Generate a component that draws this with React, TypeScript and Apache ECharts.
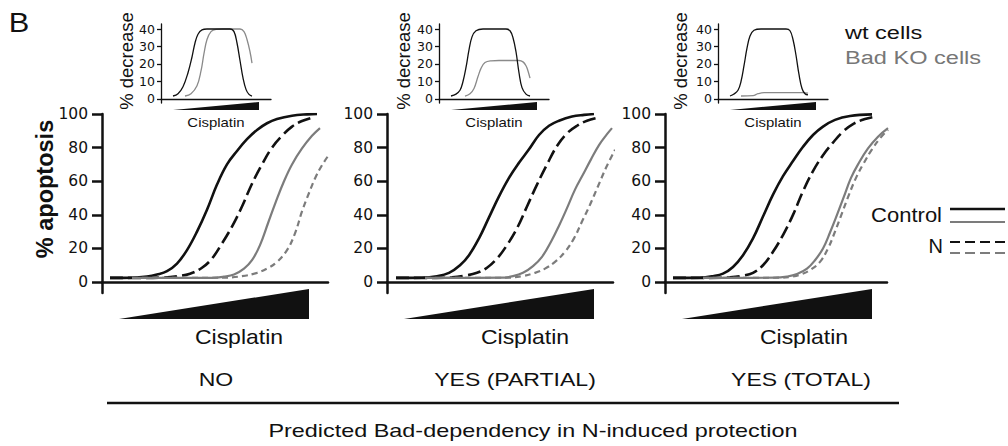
import React, { useEffect, useRef } from "react";
import * as echarts from "echarts";

// ---------- data (x = relative cisplatin dose units, y = %) ----------
const panelTitles = ["NO", "YES (PARTIAL)", "YES (TOTAL)"];
const mainYTicks = [0, 20, 40, 60, 80, 100];
const insetYTicks = [0, 10, 20, 30, 40];

// Panel 1 (NO)
const p1ControlWt = [[8, 2.5], [30, 2.6], [45, 3.3], [55, 4.5], [65, 6.5], [75, 11], [85, 19], [95, 30], [105, 43], [115, 58], [125, 70], [135, 78], [145, 85], [155, 90.5], [165, 94.5], [175, 97], [190, 99], [205, 99.8], [215, 100]];
const p1NWt = [[8, 2.5], [40, 2.5], [60, 2.7], [75, 3.5], [88, 5], [100, 8.5], [110, 14], [120, 23], [130, 33], [140, 45], [150, 58.5], [160, 70], [170, 80], [180, 87], [190, 92.5], [200, 95.8], [211, 98]];
const p1ControlKO = [[30, 2.5], [110, 2.5], [122, 3.2], [132, 4.5], [142, 8], [150, 13], [158, 22], [166, 35], [174, 48], [182, 60], [190, 70], [200, 79.5], [210, 87], [218, 91.6]];
const p1NKO = [[30, 2.5], [120, 2.6], [140, 3.5], [155, 5.5], [165, 8], [175, 12], [185, 19], [193, 29], [200, 42], [207, 53], [214, 63], [220, 69.5], [226, 75]];
// Panel 2 (YES PARTIAL)
const p2ControlWt = [[9, 2.5], [35, 2.6], [50, 3.5], [62, 5.5], [73, 10], [82, 16], [92, 26], [102, 38.5], [112, 51], [122, 62], [132, 71], [142, 79], [152, 87.5], [162, 93], [172, 96], [185, 98.5], [197, 99.5], [207, 100]];
const p2NWt = [[9, 2.5], [45, 2.5], [65, 2.8], [78, 3.8], [90, 5.5], [100, 8.5], [110, 14], [120, 22], [130, 32], [140, 45], [150, 58], [160, 70], [170, 81], [180, 88.5], [190, 93], [200, 96], [212, 98]];
const p2ControlKO = [[38, 2.5], [115, 2.6], [126, 3.5], [136, 5.5], [146, 9.5], [155, 15], [164, 24], [172, 33.5], [180, 44], [188, 55], [196, 64], [204, 73], [212, 81.5], [220, 88], [225, 91.6]];
const p2NKO = [[38, 2.5], [120, 2.6], [135, 3.5], [148, 5.5], [158, 8], [168, 12], [178, 18], [187, 26], [195, 36], [203, 46], [211, 57], [219, 68], [228, 78.7]];
// Panel 3 (YES TOTAL)
const p3ControlWt = [[8, 2.5], [35, 2.6], [48, 3.5], [58, 5], [68, 9], [78, 16], [88, 26], [98, 39], [108, 52], [118, 63], [128, 72], [138, 80.5], [148, 87.5], [158, 92.5], [170, 96.5], [185, 98.8], [207, 99.8]];
const p3NWt = [[8, 2.5], [45, 2.5], [65, 2.8], [78, 3.8], [88, 5.5], [98, 10], [108, 18], [118, 28], [128, 40], [138, 54], [148, 66], [158, 75.5], [168, 83], [178, 89.5], [188, 94], [200, 97], [212, 98.6]];
const p3ControlKO = [[38, 2.5], [110, 2.6], [122, 3.3], [132, 4.8], [142, 8], [150, 13], [158, 20], [165, 29.5], [172, 40], [179, 51], [186, 62], [194, 71], [203, 79.5], [213, 86.5], [223, 91.6]];
const p3NKO = [[38, 2.5], [115, 2.6], [127, 3.3], [137, 4.8], [146, 7.5], [155, 12], [163, 20], [170, 30], [177, 41], [184, 52], [191, 62], [199, 71], [207, 79], [215, 85.5], [223, 90.6]];

// Insets (% decrease)
const i1Wt = [[12, 1.7], [17, 3], [22, 7], [27, 15], [31, 24], [34, 32], [37, 37], [41, 39.5], [46, 40], [69, 40], [73, 38.5], [76, 32], [79, 22], [82, 12], [85, 5.5], [88, 2.6], [91, 1.7]];
const i1KO = [[24, 1.7], [30, 3], [36, 7.5], [40, 16], [43, 26], [46, 34], [50, 38.5], [55, 39.8], [62, 40], [79, 40], [83, 38.5], [86, 34], [89, 27], [91, 20.5]];
const i2Wt = [[12, 1.7], [17, 2.8], [21, 5], [24, 10], [27, 18], [30, 28], [33, 35.5], [37, 39], [44, 40], [67, 40], [71, 39], [74, 35], [77, 27], [80, 15], [83, 6.5], [87, 2.8], [91, 1.7]];
const i2KO = [[26, 1.7], [31, 3], [35, 6], [39, 12.8], [42, 17.5], [46, 20.8], [52, 21.8], [60, 22], [80, 22], [84, 21.2], [87, 19], [89, 16], [91, 11.9]];
const i3Wt = [[12, 1.7], [16, 2.8], [20, 5], [23, 10], [26, 19], [29, 29], [32, 36], [36, 39.3], [43, 40], [68, 40], [72, 39], [75, 34], [78, 25], [81, 14], [84, 6], [87, 3], [90, 2.3]];
const i3KO = [[23, 1.7], [35, 1.9], [40, 3.0], [46, 3.6], [85, 3.6], [90, 3.3]];

const mainCurves = [
  [p1ControlWt, p1NWt, p1ControlKO, p1NKO],
  [p2ControlWt, p2NWt, p2ControlKO, p2NKO],
  [p3ControlWt, p3NWt, p3ControlKO, p3NKO],
];
const insetCurves = [
  [i1Wt, i1KO],
  [i2Wt, i2KO],
  [i3Wt, i3KO],
];

// ---------- layout ----------
const FONT = "'Liberation Sans', Arial, Helvetica, sans-serif";
const NUMFONT = "'DejaVu Sans', 'Liberation Sans', sans-serif";
const BLACK = "#111";
const GRAY = "#7c7c7c";
const mainLeft = [102, 387, 665];
const mainWidth = [226, 226, 222];
const insetLeft = [161, 439, 718];
const INSET_W = 110;

function txt(text: string, x: number, y: number, size: number, o: any = {}) {
  return {
    type: "text",
    x,
    y,
    rotation: o.rotation || 0,
    scaleX: o.scaleX || 1,
    silent: true,
    style: {
      text,
      x: 0,
      y: 0,
      fontSize: size,
      fontFamily: FONT,
      fontWeight: o.weight || "normal",
      fill: o.fill || BLACK,
      textAlign: o.align || "center",
      textVerticalAlign: "middle",
    },
  };
}

export default function App() {
  const ref = useRef<HTMLDivElement>(null);

  useEffect(() => {
    if (!ref.current) return;
    const chart = echarts.init(ref.current, null, { renderer: "svg" });

    const grids: any[] = [];
    const xAxes: any[] = [];
    const yAxes: any[] = [];
    const series: any[] = [];

    // main grids 0..2
    for (let p = 0; p < 3; p++) {
      grids.push({ left: mainLeft[p], top: 114, width: mainWidth[p], height: 179, outerBoundsMode: "none", containLabel: false });
      xAxes.push({
        type: "value", gridIndex: p, min: 0, max: mainWidth[p],
        axisLine: { show: true, onZero: true, lineStyle: { color: BLACK, width: 2.5 } },
        axisTick: { show: false }, axisLabel: { show: false }, splitLine: { show: false },
      });
      yAxes.push({
        type: "value", gridIndex: p, min: -6.5, max: 100,
        axisLine: { show: true, onZero: false, lineStyle: { color: BLACK, width: 2.5 } },
        axisTick: { show: true, length: 10, customValues: mainYTicks, lineStyle: { color: BLACK, width: 2.5 } },
        axisLabel: { show: true, customValues: mainYTicks, margin: 14, fontSize: 15.5, fontFamily: NUMFONT, color: BLACK },
        splitLine: { show: false },
      });
    }
    // inset grids 3..5
    for (let p = 0; p < 3; p++) {
      grids.push({ left: insetLeft[p], top: 24, width: INSET_W, height: 79, outerBoundsMode: "none", containLabel: false });
      xAxes.push({
        type: "value", gridIndex: 3 + p, min: 0, max: INSET_W,
        axisLine: { show: true, onZero: true, lineStyle: { color: BLACK, width: 1.3 } },
        axisTick: { show: false }, axisLabel: { show: false }, splitLine: { show: false },
      });
      yAxes.push({
        type: "value", gridIndex: 3 + p, min: -2.3, max: 42.86,
        axisLine: { show: true, onZero: false, lineStyle: { color: BLACK, width: 1.3 } },
        axisTick: { show: true, length: 4, customValues: insetYTicks, lineStyle: { color: BLACK, width: 1.3 } },
        axisLabel: { show: true, customValues: insetYTicks, margin: 6, fontSize: 12.5, fontFamily: NUMFONT, color: BLACK },
        splitLine: { show: false },
      });
    }

    const styles = [
      { color: BLACK, width: 2.6, type: "solid" },
      { color: BLACK, width: 2.6, type: [13, 5] },
      { color: GRAY, width: 2.2, type: "solid" },
      { color: GRAY, width: 2.2, type: [6, 4] },
    ];
    for (let p = 0; p < 3; p++) {
      mainCurves[p].forEach((d, k) => {
        series.push({
          type: "line", data: d, xAxisIndex: p, yAxisIndex: p,
          smooth: 0.4, showSymbol: false, symbol: "none", silent: true,
          lineStyle: { ...styles[k], cap: "butt" }, z: 2 + k,
        });
      });
      insetCurves[p].forEach((d, k) => {
        series.push({
          type: "line", data: d, xAxisIndex: 3 + p, yAxisIndex: 3 + p,
          smooth: 0.4, showSymbol: false, symbol: "none", silent: true,
          lineStyle: { color: k === 0 ? BLACK : "#8a8a8a", width: 1.3 }, z: 3 - k,
        });
      });
    }

    const graphic: any[] = [];
    graphic.push(txt("B", 19, 22, 28, { scaleX: 1.1 }));
    graphic.push(txt("% apoptosis", 45, 189, 23.5, { rotation: Math.PI / 2, weight: "bold" }));
    const decX = [126, 403, 680];
    const cisMainX = [239, 525, 804];
    const titleX = [216, 515, 801];
    for (let p = 0; p < 3; p++) {
      graphic.push(txt("% decrease", decX[p], 61, 18.5, { rotation: Math.PI / 2 }));
      const il = insetLeft[p] + 12;
      graphic.push({ type: "polygon", silent: true, shape: { points: [[il, 110], [il + 86, 102], [il + 86, 110]] }, style: { fill: BLACK } });
      graphic.push(txt("Cisplatin", il + 43, 122, 13, { scaleX: 1.15 }));
      const ml = mainLeft[p] + 17;
      graphic.push({ type: "polygon", silent: true, shape: { points: [[ml, 319], [ml + 190, 289], [ml + 190, 319]] }, style: { fill: BLACK } });
      graphic.push(txt("Cisplatin", cisMainX[p], 337, 20, { scaleX: 1.15 }));
      graphic.push(txt(panelTitles[p], titleX[p], 379, 18, { scaleX: 1.28 }));
    }
    graphic.push({ type: "line", silent: true, shape: { x1: 107, y1: 403, x2: 899, y2: 403 }, style: { stroke: BLACK, lineWidth: 2.5 } });
    graphic.push(txt("Predicted Bad-dependency in N-induced protection", 533, 431, 18, { scaleX: 1.3 }));

    // legends
    graphic.push(txt("wt cells", 845, 33, 19, { align: "left", scaleX: 1.24 }));
    graphic.push(txt("Bad KO cells", 845, 58, 19, { align: "left", scaleX: 1.24, fill: "#777" }));
    graphic.push(txt("Control", 942, 215, 20, { align: "right", scaleX: 1.1 }));
    graphic.push(txt("N", 943, 246, 20, { align: "right" }));
    graphic.push({ type: "line", silent: true, shape: { x1: 950, y1: 209, x2: 1005, y2: 209 }, style: { stroke: BLACK, lineWidth: 2.5 } });
    graphic.push({ type: "line", silent: true, shape: { x1: 950, y1: 222, x2: 1005, y2: 222 }, style: { stroke: GRAY, lineWidth: 2.2 } });
    graphic.push({ type: "line", silent: true, shape: { x1: 950, y1: 242, x2: 1005, y2: 242 }, style: { stroke: BLACK, lineWidth: 2.2, lineDash: [10, 5] } });
    graphic.push({ type: "line", silent: true, shape: { x1: 950, y1: 253, x2: 1005, y2: 253 }, style: { stroke: GRAY, lineWidth: 2.2, lineDash: [10, 5] } });

    chart.setOption({
      animation: false,
      backgroundColor: "#fff",
      grid: grids,
      xAxis: xAxes,
      yAxis: yAxes,
      series,
      graphic,
    });
    return () => chart.dispose();
  }, []);

  return <div ref={ref} style={{ position: "fixed", left: 0, top: 0, width: 1008, height: 446 }} />;
}
